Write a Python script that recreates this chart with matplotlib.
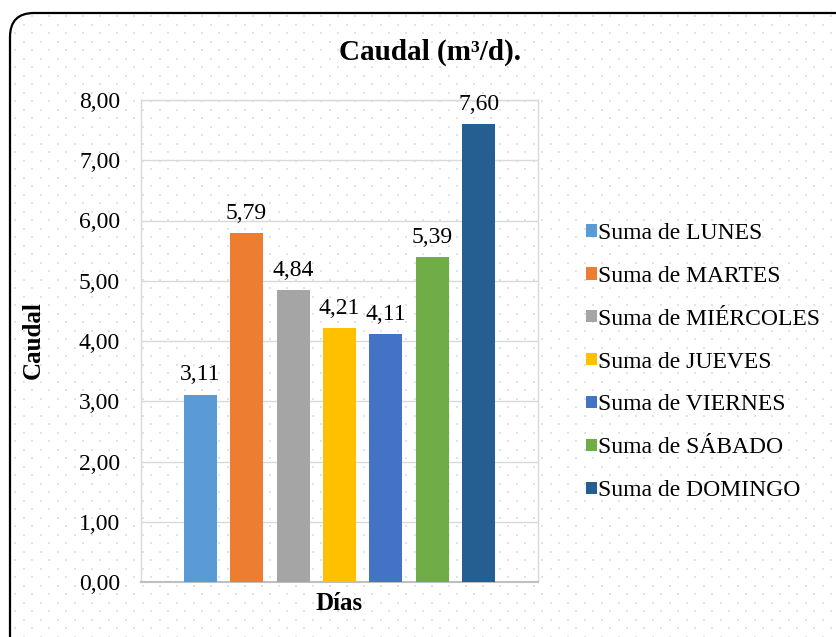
import numpy as np
import matplotlib
matplotlib.use("Agg")
import matplotlib.pyplot as plt
from matplotlib.patches import FancyBboxPatch

# Data
series = ["Suma de LUNES", "Suma de MARTES", "Suma de MIÉRCOLES", "Suma de JUEVES",
          "Suma de VIERNES", "Suma de SÁBADO", "Suma de DOMINGO"]
values = [3.11, 5.79, 4.84, 4.21, 4.11, 5.39, 7.60]
colors = ["#5B9BD5", "#ED7D31", "#A5A5A5", "#FFC000", "#4472C4", "#70AD47", "#255E91"]
yticks = [0, 1, 2, 3, 4, 5, 6, 7, 8]

plt.rcParams["font.family"] = ["Liberation Serif", "DejaVu Serif"]

W, H = 836, 637
fig = plt.figure(figsize=(W / 100, H / 100), dpi=100)

# Background layer in pixel coordinates: rounded frame with dotted fill
bg = fig.add_axes([0, 0, 1, 1], zorder=-1)
bg.set_xlim(0, W)
bg.set_ylim(H, 0)
bg.axis("off")
frame = FancyBboxPatch((10, 13), 850, 650,
                       boxstyle="round,pad=0,rounding_size=24",
                       facecolor="white", edgecolor="black", linewidth=1.6)
bg.add_patch(frame)
rows = np.arange(16, H + 10, 8.5)
pts = []
for i, yy in enumerate(rows):
    off = 0 if i % 2 == 0 else 8.5
    xs = np.arange(15 + off, W + 10, 17)
    pts.append(np.column_stack([xs, np.full_like(xs, yy)]))
pts = np.vstack(pts)
dots = bg.scatter(pts[:, 0], pts[:, 1], s=2.2, marker="s", color="#D6E6F5", linewidths=0)
dots.set_clip_path(frame)

# Main plot area
ax = fig.add_axes([141 / W, 55 / H, 397 / W, 482 / H])
ax.patch.set_alpha(0)
x = np.arange(len(values))
bars = ax.bar(x, values, width=0.71, color=colors, label=series, zorder=3)
for xi, v in zip(x, values):
    ax.annotate(f"{v:.2f}".replace(".", ","), (xi, v), xytext=(0, 10.5),
                textcoords="offset points", ha="center", va="baseline", fontsize=17)

ax.set_xlim(3 - 4.27, 3 + 4.27)
ax.set_ylim(0, 8)
ax.set_yticks(yticks)
ax.set_yticklabels([f"{t:.2f}".replace(".", ",") for t in yticks], fontsize=17)
ax.set_xticks([])
ax.tick_params(axis="y", length=0, pad=15)
ax.grid(axis="y", color="#D9D9D9", linewidth=1, zorder=0)
for side in ["left", "right", "top"]:
    ax.spines[side].set_color("#D9D9D9")
    ax.spines[side].set_linewidth(1)
ax.spines["bottom"].set_color("#BFBFBF")
ax.spines["bottom"].set_linewidth(1.5)

fig.text(430 / W, 1 - 52 / H, "Caudal (m³/d).", ha="center", va="center",
         fontsize=21, fontweight="bold")
fig.text(33 / W, 1 - 340 / H, "Caudal", rotation=90, ha="center", va="center",
         fontsize=18, fontweight="bold")
fig.text(339 / W, 1 - 603 / H, "Días", ha="center", va="center",
         fontsize=18, fontweight="bold")

handles, labels = ax.get_legend_handles_labels()
fig.legend(handles, labels, loc="center left", bbox_to_anchor=(586 / W, 1 - 362 / H),
           frameon=False, fontsize=17, handlelength=0.45, handleheight=0.45,
           handletextpad=0.06, labelspacing=0.93, borderaxespad=0, borderpad=0)

fig.savefig("out.png", dpi=100)
